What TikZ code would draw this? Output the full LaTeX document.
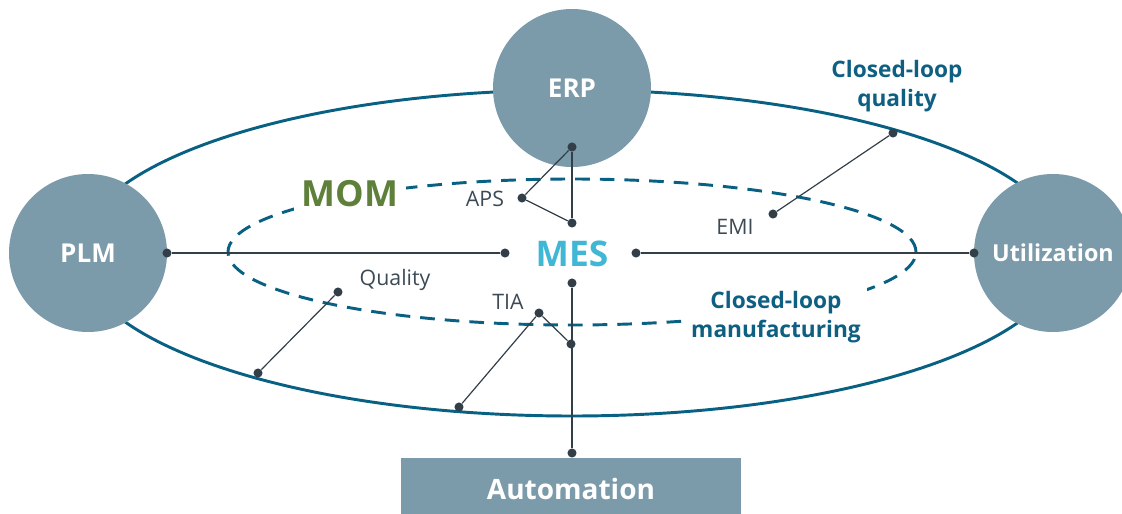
\documentclass[tikz,border=0pt]{standalone}
\usepackage{fontspec}
\setmainfont{Open Sans}
\definecolor{circ}{RGB}{123,154,170}
\definecolor{ellc}{RGB}{8,96,130}
\definecolor{dotc}{RGB}{50,63,72}
\definecolor{labc}{RGB}{60,74,85}
\definecolor{clc}{RGB}{14,95,130}
\definecolor{mesc}{RGB}{65,183,214}
\definecolor{momc}{RGB}{95,128,58}
\begin{document}
\begin{tikzpicture}[x=0.75pt,y=-0.75pt,
  big/.style={circle, fill=circ, minimum size=118.5pt, inner sep=0pt, text=white, font=\bfseries\fontsize{19.5}{23}\selectfont},
  dot/.style={circle, fill=dotc, minimum size=6.8pt, inner sep=0pt},
  conn/.style={draw=dotc, line width=0.9pt},
  lab/.style={text=labc, font=\fontsize{16}{19}\selectfont, inner sep=0pt},
  cl/.style={text=clc, font=\bfseries\fontsize{17}{21.5}\selectfont, align=center, inner sep=0pt},
  ring/.style={draw=ellc, line width=2.2pt}]
\useasboundingbox (0,0) rectangle (1122,514);
% rings
\draw[ring] (572,253) ellipse [x radius=369.75pt, y radius=122.25pt];
\draw[ring, dash pattern=on 11pt off 7.5pt] (572,252) ellipse [x radius=258pt, y radius=54.75pt];
% big circles
\node[big] (plm) at (88,253) {PLM};
\node[big] (erp) at (572,88) {ERP};
\node[big, font=\bfseries\fontsize{17.5}{21}\selectfont] (util) at (1053,253) {Utilization};
\node[fill=circ, minimum width=255pt, minimum height=46.5pt, inner sep=0pt, text=white, font=\bfseries\fontsize{21}{25}\selectfont] (auto) at (571,489) {Automation};
% dots
\node[dot] (dplm) at (167,253) {};
\node[dot] (dmesl) at (505,253) {};
\node[dot] (dmesr) at (636,253) {};
\node[dot] (dutil) at (974,253) {};
\node[dot] (derp) at (572,147) {};
\node[dot] (daps) at (522,198) {};
\node[dot] (dmid) at (572,223) {};
\node[dot] (dmesb) at (572,283) {};
\node[dot] (dauto) at (572,453) {};
\node[dot] (dtiab) at (571,344) {};
\node[dot] (dtia) at (539,313) {};
\node[dot] (dtial) at (459,407) {};
\node[dot] (dq) at (338,292) {};
\node[dot] (dql) at (258,373) {};
\node[dot] (demi) at (773,214) {};
\node[dot] (dcq) at (893,133) {};
% connectors
\draw[conn] (dplm) -- (dmesl);
\draw[conn] (dmesr) -- (dutil);
\draw[conn] (derp) -- (dmid);
\draw[conn] (derp) -- (daps);
\draw[conn] (daps) -- (dmid);
\draw[conn] (dmesb) -- (dauto);
\draw[conn] (dtia) -- (dtiab);
\draw[conn] (dtia) -- (dtial);
\draw[conn] (dq) -- (dql);
\draw[conn] (demi) -- (dcq);
% labels
\node[text=mesc, font=\bfseries\fontsize{26.5}{30}\selectfont] (mes) at (572,254) {MES};
\node[text=momc, fill=white, inner sep=6pt, font=\bfseries\fontsize{27}{30}\selectfont] (mom) at (350,194) {MOM};
\node[lab] (aps) at (485,199) {APS};
\node[lab] (tia) at (508,302) {TIA};
\node[lab] (qual) at (395,280) {Quality};
\node[lab] (emi) at (735,227) {EMI};
\node[cl] (clq) at (897,86) {Closed-loop\\quality};
\node[cl, fill=white, inner sep=5pt] (clm) at (776,317) {Closed-loop\\manufacturing};
\end{tikzpicture}
\end{document}
